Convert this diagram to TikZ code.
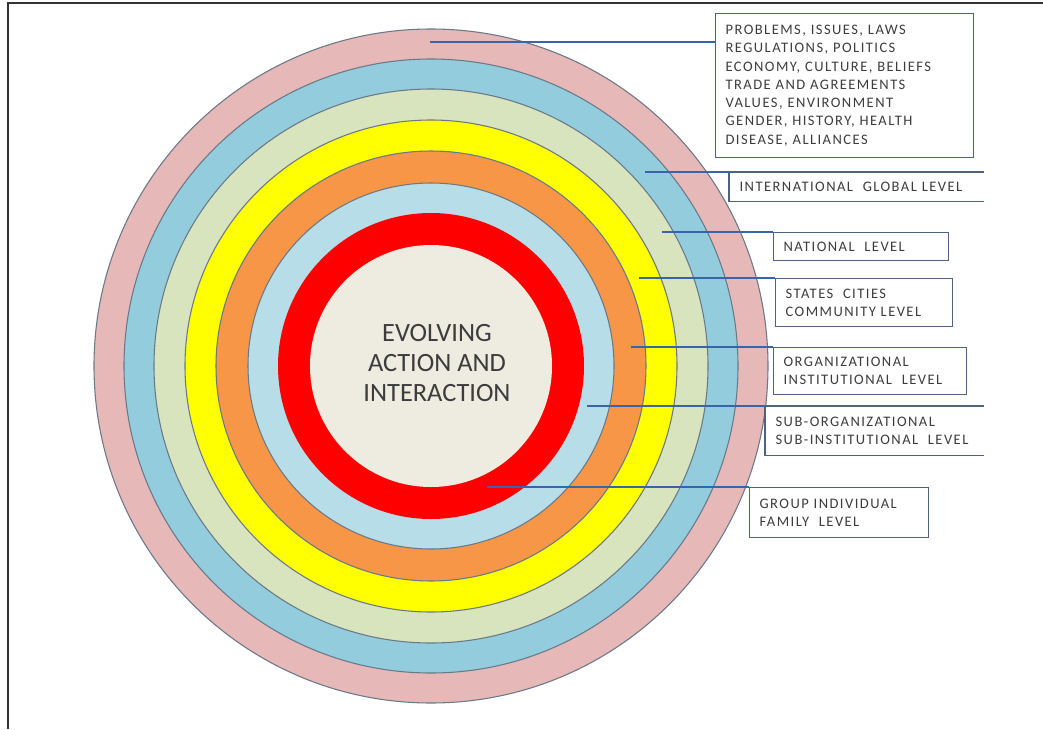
\documentclass[tikz,border=0pt]{standalone}
\usepackage{fontspec}
\setmainfont{Carlito}
\newfontfamily\boxfont[LetterSpace=10]{Carlito}
\definecolor{pinkring}{HTML}{E6B9B8}
\definecolor{bluering}{HTML}{93CDDD}
\definecolor{beigering}{HTML}{D7E4BD}
\definecolor{yellowring}{HTML}{FFFF00}
\definecolor{orangering}{HTML}{F79646}
\definecolor{lbluering}{HTML}{B7DEE8}
\definecolor{redring}{HTML}{FF0000}
\definecolor{corefill}{HTML}{EEECE1}
\definecolor{ringline}{HTML}{6A7888}
\definecolor{boxline}{HTML}{4F6280}
\definecolor{linkblue}{HTML}{3A64A8}
\definecolor{textgray}{HTML}{3C3C3C}
\tikzset{
  lvlbox/.style={draw=boxline, line width=0.9pt, anchor=north west, align=left,
    inner xsep=7.5pt, inner ysep=0pt, text=textgray,
    font=\boxfont\fontsize{10.9}{13.7}\selectfont},
  openbox/.style={lvlbox, draw=none},
  link/.style={draw=linkblue, line width=0.8pt}}

\begin{document}
\begin{tikzpicture}[x=0.75pt, y=-0.75pt]
  \useasboundingbox (0,0) rectangle (1043,729);
  \draw[line width=1.2pt, black!80] (8,729) -- (8,3) -- (1043,3); % frame
  % rings, outside in
  \foreach \r/\c in {337/pinkring, 307/bluering, 277/beigering,
                     246/yellowring, 215/orangering, 183/lbluering}
    \filldraw[fill=\c, draw=ringline, line width=0.8pt] (431,366) circle (\r);
  \fill[redring] (431,366) circle (153);
  \fill[corefill] (431,366) circle (121);
  \node[font=\fontsize{19.8}{22.5}\selectfont, text=textgray, align=center] (core)
    at (437,363) {EVOLVING\\ACTION AND\\INTERACTION};

  % level boxes
  \node[lvlbox, text width=178.5pt, minimum height=108pt] (issues) at (715,13)
    {PROBLEMS, ISSUES, LAWS\\REGULATIONS, POLITICS\\ECONOMY, CULTURE, BELIEFS\\
     TRADE AND AGREEMENTS\\VALUES, ENVIRONMENT\\GENDER, HISTORY, HEALTH\\DISEASE, ALLIANCES};
  \node[openbox, text width=175.5pt, minimum height=21pt] (intl) at (729,172)
    {INTERNATIONAL \ GLOBAL LEVEL};
  \node[lvlbox, text width=116.25pt, minimum height=21pt] (natl) at (773,232)
    {NATIONAL \ LEVEL};
  \node[lvlbox, text width=117.75pt, minimum height=36pt] (state) at (775,278)
    {STATES \ CITIES\\COMMUNITY LEVEL};
  \node[lvlbox, text width=129.75pt, minimum height=35.25pt] (org) at (773,347)
    {ORGANIZATIONAL\\INSTITUTIONAL \ LEVEL};
  \node[openbox, text width=148.5pt, minimum height=36pt] (suborg) at (765,406)
    {SUB-ORGANIZATIONAL\\SUB-INSTITUTIONAL \ LEVEL};
  \node[lvlbox, text width=119.25pt, minimum height=37.5pt] (group) at (749,487)
    {GROUP INDIVIDUAL\\FAMILY \ LEVEL};
  \foreach \b in {intl, suborg}
    \draw[boxline, line width=0.9pt] (\b.north east) -- (\b.north west)
      -- (\b.south west) -- (\b.south east);

  % connectors from the rings
  \coordinate (a1) at (430,42);
  \coordinate (a2) at (645,172);
  \coordinate (a3) at (662,232);
  \coordinate (a4) at (639,278);
  \coordinate (a5) at (631,347);
  \coordinate (a6) at (587,406);
  \coordinate (a7) at (487,487);
  \draw[link] (a1) -- (a1 -| issues.west);
  \draw[link] (a2) -- (intl.north west);
  \draw[link] (a3) -- (natl.north west);
  \draw[link] (a4) -- (state.north west);
  \draw[link] (a5) -- (org.north west);
  \draw[link] (a6) -- (suborg.north west);
  \draw[link] (a7) -- (group.north west);
\end{tikzpicture}
\end{document}
